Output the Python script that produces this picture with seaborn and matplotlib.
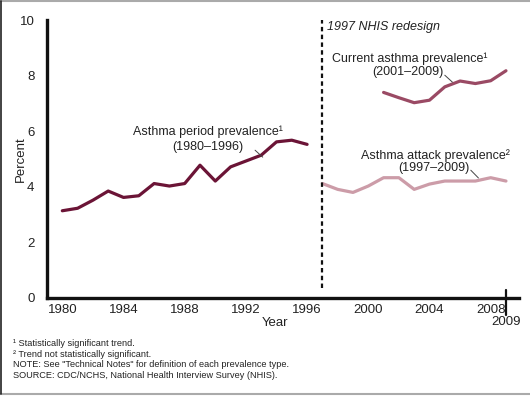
import matplotlib
matplotlib.use("Agg")
import matplotlib.pyplot as plt
import seaborn as sns
import pandas as pd
from matplotlib.lines import Line2D

# period prevalence, old survey design
period_years = list(range(1980, 1997))
period_vals = [3.14, 3.23, 3.52, 3.85, 3.62, 3.68, 4.12, 4.03, 4.12, 4.78,
               4.21, 4.72, 4.93, 5.14, 5.62, 5.68, 5.53]

# current asthma, 2001-2009
current_years = list(range(2001, 2010))
current_vals = [7.40, 7.21, 7.03, 7.12, 7.60, 7.81, 7.72, 7.82, 8.18]

# asthma attack, 1997-2009
attack_years = list(range(1997, 2010))
attack_vals = [4.12, 3.91, 3.80, 4.03, 4.33, 4.33, 3.91, 4.10, 4.21, 4.21,
               4.21, 4.33, 4.21]

xticks = [1980, 1984, 1988, 1992, 1996, 2000, 2004, 2008]
yticks = [0, 2, 4, 6, 8, 10]

footnotes = [
    "\u00b9 Statistically significant trend.",
    "\u00b2 Trend not statistically significant.",
    'NOTE: See "Technical Notes" for definition of each prevalence type.',
    "SOURCE: CDC/NCHS, National Health Interview Survey (NHIS).",
]

sns.set_style("white")
plt.rcParams["font.family"] = ["Liberation Sans", "DejaVu Sans"]

c_period = "#6b1436"
c_current = "#9a4a64"
c_attack = "#cc9ca8"
txt = "#222222"

fig = plt.figure(figsize=(5.3, 3.96), dpi=100)
ax = fig.add_axes([0.0887, 0.2475, 0.8905, 0.7015])

df_p = pd.DataFrame({"year": period_years, "pct": period_vals})
df_c = pd.DataFrame({"year": current_years, "pct": current_vals})
df_a = pd.DataFrame({"year": attack_years, "pct": attack_vals})

sns.lineplot(data=df_p, x="year", y="pct", color=c_period, lw=2.3, ax=ax)
sns.lineplot(data=df_c, x="year", y="pct", color=c_current, lw=2.3, ax=ax)
sns.lineplot(data=df_a, x="year", y="pct", color=c_attack, lw=2.3, ax=ax)

ax.set_xlim(1979.0, 2009.85)
ax.set_ylim(0, 10)
for s in ["top", "right"]:
    ax.spines[s].set_visible(False)
for s in ["left", "bottom"]:
    ax.spines[s].set_linewidth(2.4)
    ax.spines[s].set_color("#111111")

ax.set_yticks(yticks)
ax.set_yticklabels([str(v) for v in yticks], fontsize=9.5)
ax.set_xticks(xticks)
ax.set_xticklabels([str(v) for v in xticks], fontsize=9.5)
ax.tick_params(axis="y", direction="in", length=6, width=2.4, pad=9, colors="#111111")
ax.tick_params(axis="x", direction="in", length=8, width=2.4, pad=4, colors="#111111")
ax.tick_params(labelcolor=txt)

# 2009 tick crosses the axis and runs down to its label
ax.plot([2009, 2009], [0, 0.29], color="#111111", lw=1.6, clip_on=False)
ax.plot([2009, 2009], [0, -0.62], color="#111111", lw=1.6, clip_on=False)
ax.text(2009.0, -0.88, "2009", fontsize=9.5, ha="center", va="center", color=txt)

ax.set_xlabel("Year", fontsize=9.5, color=txt)
ax.xaxis.set_label_coords(0.483, -0.07)
ax.set_ylabel("Percent", fontsize=9.5, color=txt)
ax.yaxis.set_label_coords(-0.042, 0.5)

# redesign marker
ax.plot([1997, 1997], [0.35, 10], color="#111111", lw=1.6, ls=(0, (2, 1.5)))
ax.text(1997.3, 9.75, "1997 NHIS redesign", fontsize=9, style="italic",
        ha="left", va="center", color=txt)

# series labels with leader lines
ax.text(1989.5, 5.97, "Asthma period prevalence\u00b9", fontsize=9,
        ha="center", va="center", color=txt)
ax.text(1989.5, 5.43, "(1980\u20131996)", fontsize=9, ha="center", va="center",
        color=txt)
ax.plot([1992.6, 1993.1], [5.32, 5.07], color="#444444", lw=0.7)

ax.text(2002.7, 8.63, "Current asthma prevalence\u00b9", fontsize=9,
        ha="center", va="center", color=txt)
ax.text(2002.6, 8.13, "(2001\u20132009)", fontsize=9, ha="center", va="center",
        color=txt)
ax.plot([2005.0, 2005.5], [8.02, 7.77], color="#444444", lw=0.7)

ax.text(2004.4, 5.14, "Asthma attack prevalence\u00b2", fontsize=9,
        ha="center", va="center", color=txt)
ax.text(2004.3, 4.68, "(1997\u20132009)", fontsize=9, ha="center", va="center",
        color=txt)
ax.plot([2006.7, 2007.2], [4.60, 4.32], color="#444444", lw=0.7)

for i, line in enumerate(footnotes):
    fig.text(13 / 530, 1 - (344 + i * 10.4) / 396, line, fontsize=6.6,
             ha="left", va="center", color=txt)

# outer frame: grey top and bottom, dark left edge
fig.lines.append(Line2D([0, 1], [0.997, 0.997], transform=fig.transFigure,
                        color="#aaaaaa", lw=1.5))
fig.lines.append(Line2D([0, 1], [0.004, 0.004], transform=fig.transFigure,
                        color="#aaaaaa", lw=1.5))
fig.lines.append(Line2D([0.001, 0.001], [0.004, 0.997], transform=fig.transFigure,
                        color="#222222", lw=1.2))

fig.savefig("out.png", dpi=100)
